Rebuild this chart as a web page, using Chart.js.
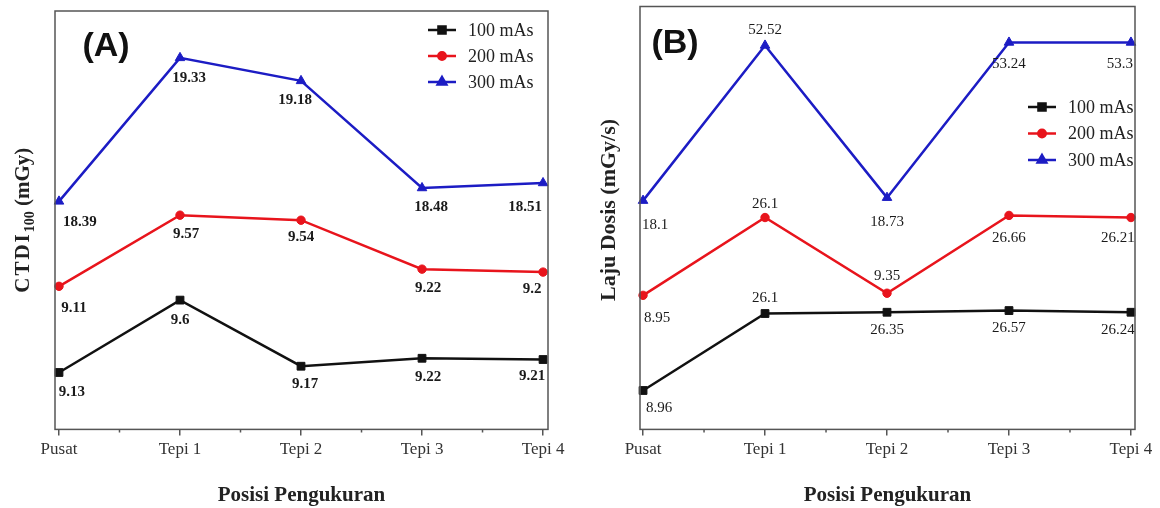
<!DOCTYPE html>
<html>
<head>
<meta charset="utf-8">
<script src="https://cdn.jsdelivr.net/npm/chart.js@4.4.1/dist/chart.umd.min.js"></script>
<style>
html, body { margin: 0; padding: 0; background: #fff; }
#wrap { display: flex; width: 1160px; height: 508px; }
.box { position: relative; width: 580px; height: 508px; }
</style>
</head>
<body>
<div id="wrap">
  <div class="box"><canvas id="chartA"></canvas></div>
  <div class="box"><canvas id="chartB"></canvas></div>
</div>
<script>
const positions = ['Pusat', 'Tepi 1', 'Tepi 2', 'Tepi 3', 'Tepi 4'];
const seriesNames = ['100 mAs', '200 mAs', '300 mAs'];

// (A) CTDI100 (mGy), printed values
const ctdi100 = [9.13, 9.6, 9.17, 9.22, 9.21];
const ctdi200 = [9.11, 9.57, 9.54, 9.22, 9.2];
const ctdi300 = [18.39, 19.33, 19.18, 18.48, 18.51];
// (A) plotted height of each point, 0-100 of the frame (axis has no ticks)
const ctdiLevel100 = [13.6, 30.9, 15.1, 17.0, 16.7];
const ctdiLevel200 = [34.2, 51.2, 50.0, 38.3, 37.6];
const ctdiLevel300 = [54.5, 88.8, 83.3, 57.7, 58.9];

// (B) Laju Dosis (mGy/s), printed values
const laju100 = [8.96, 26.1, 26.35, 26.57, 26.24];
const laju200 = [8.95, 26.1, 9.35, 26.66, 26.21];
const laju300 = [18.1, 52.52, 18.73, 53.24, 53.3];
// (B) plotted height of each point, 0-100 of the frame
const lajuLevel100 = [9.2, 27.4, 27.7, 28.1, 27.7];
const lajuLevel200 = [31.7, 50.1, 32.2, 50.6, 50.1];
const lajuLevel300 = [54.1, 90.8, 54.8, 91.5, 91.5];

const colors = ['#111111', '#e8141c', '#1c1cc4'];
const markers = ['rect', 'circle', 'triangle'];
const radii = [5.5, 4.2, 5.5];
const serif = 'Liberation Serif';

// where each printed value sits relative to its point [dx, dy]
const offsetsA = [
  [[13, 20], [0, 20], [4, 18], [6, 19], [-11, 17]],
  [[15, 22], [6, 19], [0, 17], [6, 19], [-11, 17]],
  [[21, 21], [9, 20], [-6, 19], [9, 19], [-18, 24]]
];
const offsetsB = [
  [[16, 18], [0, -15], [0, 18], [0, 17], [-13, 18]],
  [[14, 23], [0, -13], [0, -17], [0, 23], [-13, 21]],
  [[12, 24], [0, -15], [0, 24], [0, 22], [-11, 22]]
];

const panelDecor = {
  id: 'panelDecor',
  afterDatasetsDraw(chart, args, opts) {
    const ctx = chart.ctx;
    ctx.save();
    ctx.fillStyle = '#1a1a1a';
    ctx.font = opts.labelFont;
    ctx.textAlign = 'center';
    ctx.textBaseline = 'middle';
    chart.data.datasets.forEach((ds, s) => {
      chart.getDatasetMeta(s).data.forEach((pt, i) => {
        const off = opts.offsets[s][i];
        ctx.fillText(String(ds.values[i]), pt.x + off[0], pt.y + off[1]);
      });
    });
    ctx.restore();
  },
  afterDraw(chart, args, opts) {
    const ctx = chart.ctx;
    const a = chart.chartArea;
    const xs = chart.scales.x;
    ctx.save();
    // frame
    ctx.strokeStyle = '#555';
    ctx.lineWidth = 1.5;
    ctx.strokeRect(a.left, a.top, a.right - a.left, a.bottom - a.top);
    // minor ticks
    ctx.beginPath();
    for (let i = 0; i < positions.length - 1; i++) {
      const px = xs.getPixelForValue(i + 0.5);
      ctx.moveTo(px, a.bottom);
      ctx.lineTo(px, a.bottom + 3);
    }
    ctx.stroke();

    // panel tag
    ctx.fillStyle = '#111';
    ctx.font = 'bold 34px "Liberation Sans"';
    ctx.textAlign = 'center';
    ctx.textBaseline = 'middle';
    ctx.fillText(opts.tag, opts.tagX, opts.tagY);

    // legend
    ctx.textAlign = 'left';
    ctx.font = '18px "' + serif + '"';
    chart.data.datasets.forEach((ds, s) => {
      const y = opts.legendY + s * opts.legendGap;
      const x0 = opts.legendX;
      ctx.strokeStyle = ds.borderColor;
      ctx.fillStyle = ds.borderColor;
      ctx.lineWidth = 2.5;
      ctx.beginPath();
      ctx.moveTo(x0, y);
      ctx.lineTo(x0 + 28, y);
      ctx.stroke();
      Chart.helpers.drawPoint(ctx, { pointStyle: ds.pointStyle, radius: ds.pointRadius - 0.5, rotation: 0, borderWidth: 1 }, x0 + 14, y);
      ctx.fillStyle = '#222';
      ctx.fillText(ds.label, x0 + 40, y + 1);
    });

    // y title, rotated, with optional subscript part
    ctx.translate(opts.titleX, (a.top + a.bottom) / 2 + opts.titleShift);
    ctx.rotate(-Math.PI / 2);
    ctx.fillStyle = '#222';
    ctx.textBaseline = 'alphabetic';
    let total = 0;
    opts.title.forEach(p => {
      ctx.font = p.font;
      ctx.letterSpacing = p.spacing || '0px';
      p.w = ctx.measureText(p.text).width;
      total += p.w;
    });
    let x = -total / 2;
    opts.title.forEach(p => {
      ctx.font = p.font;
      ctx.letterSpacing = p.spacing || '0px';
      ctx.fillText(p.text, x, 7 + (p.dy || 0));
      x += p.w;
    });
    ctx.restore();
  }
};

function makePanel(id, levels, values, decor, pad, xMin, xMax) {
  return new Chart(document.getElementById(id), {
    type: 'line',
    data: {
      datasets: seriesNames.map((name, s) => ({
        label: name,
        data: levels[s].map((y, i) => ({ x: i, y: y })),
        values: values[s],
        borderColor: colors[s],
        backgroundColor: colors[s],
        borderWidth: 2.5,
        pointStyle: markers[s],
        pointRadius: radii[s],
        pointBorderWidth: 1,
        tension: 0,
        clip: false
      }))
    },
    options: {
      responsive: true,
      maintainAspectRatio: false,
      animation: false,
      layout: { padding: pad },
      plugins: {
        legend: { display: false },
        tooltip: { enabled: false },
        panelDecor: decor
      },
      scales: {
        x: {
          type: 'linear',
          min: xMin,
          max: xMax,
          afterBuildTicks: sc => { sc.ticks = positions.map((p, i) => ({ value: i })); },
          ticks: {
            callback: v => positions[v],
            font: { family: serif, size: 17 },
            color: '#333',
            padding: 4,
            maxRotation: 0,
            autoSkip: false
          },
          grid: { drawOnChartArea: false, drawTicks: true, tickLength: 6, color: '#555', lineWidth: 1.5 },
          border: { display: false },
          title: {
            display: true,
            text: 'Posisi Pengukuran',
            font: { family: serif, size: 21, weight: 'bold' },
            color: '#222',
            padding: { top: 19, bottom: 0 }
          }
        },
        y: { display: false, min: 0, max: 100 }
      }
    },
    plugins: [panelDecor]
  });
}

makePanel('chartA',
  [ctdiLevel100, ctdiLevel200, ctdiLevel300],
  [ctdi100, ctdi200, ctdi300],
  {
    offsets: offsetsA,
    labelFont: 'bold 15px "' + serif + '"',
    tag: '(A)', tagX: 106, tagY: 47,
    legendX: 428, legendY: 30, legendGap: 26,
    titleX: 22, titleShift: 0,
    title: [
      { text: 'CTDI', font: 'bold 21px "' + serif + '"', spacing: '2px' },
      { text: '100', font: 'bold 14px "' + serif + '"', dy: 5 },
      { text: ' (mGy)', font: 'bold 21px "' + serif + '"' }
    ]
  },
  { left: 55, right: 32, top: 11, bottom: 0 }, -0.033, 4.041);

makePanel('chartB',
  [lajuLevel100, lajuLevel200, lajuLevel300],
  [laju100, laju200, laju300],
  {
    offsets: offsetsB,
    labelFont: '15px "' + serif + '"',
    tag: '(B)', tagX: 95, tagY: 44,
    legendX: 448, legendY: 107, legendGap: 26.5,
    titleX: 28, titleShift: -8,
    title: [
      { text: 'Laju Dosis (mGy/s)', font: 'bold 22px "' + serif + '"' }
    ]
  },
  { left: 60, right: 25, top: 6, bottom: 0 }, -0.025, 4.033);
</script>
</body>
</html>
